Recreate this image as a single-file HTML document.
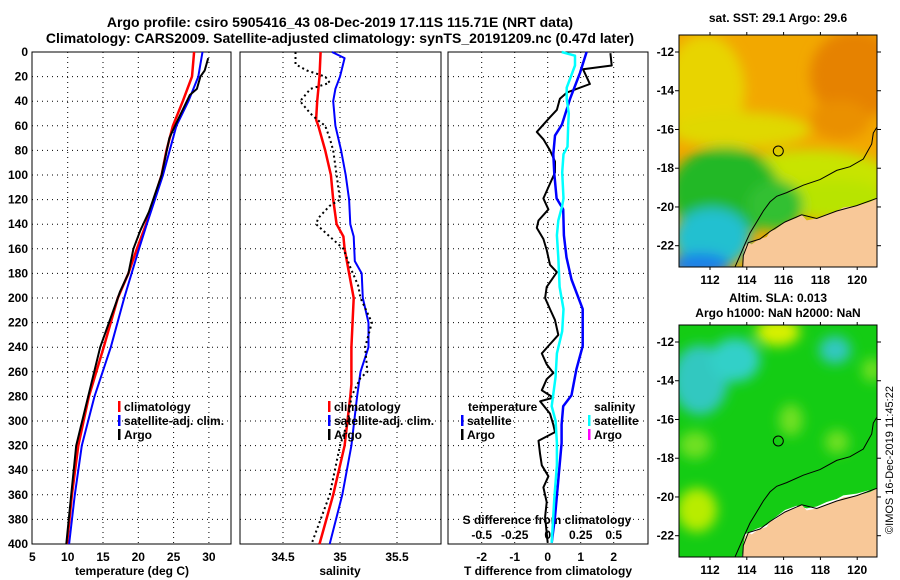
<!DOCTYPE html>
<html><head><meta charset="utf-8">
<style>
html,body{margin:0;padding:0;background:#fff;}
svg{display:block;font-family:"Liberation Sans",sans-serif;font-weight:bold;}
</style></head>
<body>
<svg id="chart" width="900" height="580" viewBox="0 0 900 580" xmlns="http://www.w3.org/2000/svg">
<defs>
<filter id="blur6" x="-20%" y="-20%" width="140%" height="140%"><feGaussianBlur stdDeviation="6"/></filter>
<clipPath id="clipTop"><rect x="679" y="35" width="198" height="232"/></clipPath>
<clipPath id="clipBot"><rect x="679" y="325" width="198" height="232"/></clipPath>
</defs>
<text x="340" y="27" font-size="14" text-anchor="middle">Argo profile: csiro 5905416_43 08-Dec-2019 17.11S 115.71E (NRT data)</text>
<text x="340" y="43" font-size="14" text-anchor="middle">Climatology: CARS2009. Satellite-adjusted climatology: synTS_20191209.nc (0.47d later)</text>
<g id="plots"></g>

<!-- top map -->
<g clip-path="url(#clipTop)">
<rect x="679" y="35" width="198" height="232" fill="#f2a800"/>
<g filter="url(#blur6)">
<ellipse cx="855" cy="75" rx="45" ry="45" fill="#e68200"/>
<ellipse cx="840" cy="120" rx="30" ry="20" fill="#ea9000"/>
<ellipse cx="705" cy="90" rx="40" ry="55" fill="#e8d400"/>
<ellipse cx="740" cy="130" rx="70" ry="18" fill="#e0d800"/>
<ellipse cx="810" cy="175" rx="80" ry="25" fill="#c8e400"/>
<ellipse cx="835" cy="200" rx="55" ry="20" fill="#b8e400"/>
<ellipse cx="725" cy="192" rx="55" ry="45" fill="#20b828"/>
<ellipse cx="775" cy="205" rx="28" ry="25" fill="#30c030"/>
<ellipse cx="712" cy="238" rx="38" ry="30" fill="#20c0d0"/>
<ellipse cx="700" cy="265" rx="30" ry="12" fill="#1a80e8"/>
</g>
<polygon fill="#f8c898" points="877.7,198 870,202 856.7,205.6 843.3,207.4 836.7,211 826.7,214 816.7,218.5 806.7,220.4 801.7,214.8 796.7,217.8 790,220.4 785,222 780,226 775,229.6 770,231.5 766.7,237 760,239 756.7,240.7 751.7,244.4 748.3,242.6 745,246.3 743.3,255.6 742.7,267 878,267"/>
<polyline fill="none" stroke="#000" stroke-width="1" points="877.7,126 873.3,133 871.7,144 863.3,159 850,166.7 836.7,170.4 820,179.6 803.3,185.2 786.7,192.6 776.7,196.3 770,201.9 763.3,211 756.7,222 750,233 745,244 740,255.6 735,267"/>
<polyline fill="none" stroke="#000" stroke-width="1" points="877.7,198 856.7,205.6 836.7,211 816.7,218.5 801.7,214.8 785,222 770,231.5 760,239 748.3,242.6 743.3,255.6 742.7,267"/>
<circle cx="778.3" cy="151" r="5" fill="none" stroke="#000"/>
</g>
<rect x="679" y="35" width="198" height="232" fill="none" stroke="#000"/>
<text x="778" y="22" font-size="12" text-anchor="middle">sat. SST: 29.1 Argo: 29.6</text>

<!-- bottom map -->
<g clip-path="url(#clipBot)">
<rect x="679" y="325" width="198" height="232" fill="#14cc14"/>
<g filter="url(#blur6)">
<ellipse cx="700" cy="380" rx="28" ry="35" fill="#30c8c0"/>
<ellipse cx="735" cy="360" rx="25" ry="22" fill="#30d0c8"/>
<ellipse cx="778" cy="332" rx="22" ry="14" fill="#d8f000"/>
<ellipse cx="835" cy="350" rx="16" ry="14" fill="#30c8c0"/>
<ellipse cx="872" cy="370" rx="10" ry="12" fill="#70e020"/>
<ellipse cx="791" cy="420" rx="12" ry="16" fill="#70e020"/>
<ellipse cx="837" cy="442" rx="12" ry="12" fill="#70e020"/>
<ellipse cx="695" cy="445" rx="16" ry="14" fill="#70e020"/>
<ellipse cx="697" cy="510" rx="20" ry="22" fill="#b8ec00"/>
</g>
<g transform="translate(0,290)">
<polygon fill="#fff" points="877.7,196 870,200 856.7,203.6 843.3,205.4 836.7,209 826.7,212 816.7,216.5 806.7,218.4 796.7,215.8 785,220 775,227.6 766.7,235 756.7,238.7 745,244.3 742,267"/>
<polygon fill="#f8c898" points="877.7,198 870,202 856.7,205.6 843.3,207.4 836.7,211 826.7,214 816.7,218.5 806.7,220.4 801.7,214.8 796.7,217.8 790,220.4 785,222 780,226 775,229.6 770,231.5 766.7,237 760,239 756.7,240.7 751.7,244.4 748.3,242.6 745,246.3 743.3,255.6 742.7,267 878,267"/>
<polyline fill="none" stroke="#000" stroke-width="1" points="877.7,126 873.3,133 871.7,144 863.3,159 850,166.7 836.7,170.4 820,179.6 803.3,185.2 786.7,192.6 776.7,196.3 770,201.9 763.3,211 756.7,222 750,233 745,244 740,255.6 735,267"/>
<polyline fill="none" stroke="#000" stroke-width="1" points="877.7,198 856.7,205.6 836.7,211 816.7,218.5 801.7,214.8 785,222 770,231.5 760,239 748.3,242.6 743.3,255.6 742.7,267"/>
<circle cx="778.3" cy="151" r="5" fill="none" stroke="#000"/>
</g>
</g>
<rect x="679" y="325" width="198" height="232" fill="none" stroke="#000"/>
<text x="778" y="302" font-size="12" text-anchor="middle">Altim. SLA: 0.013</text>
<text x="778" y="317" font-size="12" text-anchor="middle">Argo h1000: NaN h2000: NaN</text>
<text transform="translate(893,460) rotate(-90)" font-size="11" font-weight="normal" text-anchor="middle">©IMOS 16-Dec-2019 11:45:22</text>
<g id="mapaxes"></g>
</svg>
<script>
// ---- data ----
const depthTicks = [0,20,40,60,80,100,120,140,160,180,200,220,240,260,280,300,320,340,360,380,400];
const tempTicks = [5,10,15,20,25,30];
const salTicks = [34.5,35,35.5];
const tdiffTicks = [-2,-1,0,1,2];
const sdiffTicks = [-0.5,-0.25,0,0.25,0.5];
const sdiffLabels = ["-0.5","-0.25","0","0.25","0.5"];
const lonTicks = [112,114,116,118,120];
const latTicks = [-12,-14,-16,-18,-20,-22];

const tClimDepth = [0,20,40,60,80,100,120,140,160,180,200,240,280,320,360,400];
const tClim = [27.9,27.6,26.3,24.9,24.0,23.3,22.2,21.1,19.8,18.6,17.1,15.1,13.0,11.5,10.6,9.9];
const tSatDepth = [0,20,40,60,100,140,160,200,240,280,320,360,400];
const tSat = [29.1,28.5,27.1,25.4,23.5,21.2,20.1,18.0,16.1,13.8,12.0,11.0,10.2];
const tArgoDepth = [5,15,20,30,35,60,70,100,130,145,160,180,195,200,240,280,320,360,400];
const tArgo = [29.9,29.4,28.8,28.3,27.3,25.2,24.4,23.3,21.5,20.3,19.3,18.6,17.4,17.1,14.6,12.9,11.2,10.5,9.8];

const sClimDepth = [0,20,40,55,60,80,100,120,140,150,160,180,200,240,270,280,320,360,400];
const sClim = [34.83,34.82,34.80,34.79,34.81,34.87,34.92,34.94,34.97,35.03,35.04,35.08,35.12,35.1,35.1,35.09,35.04,34.94,34.82];
const sSatDepth = [0,5,20,30,40,60,80,100,120,140,150,170,180,200,220,240,260,280,320,360,400];
const sSat = [34.93,35.04,35.0,34.96,34.94,34.96,35.01,35.05,35.08,35.09,35.12,35.13,35.19,35.20,35.25,35.25,35.18,35.15,35.1,35.02,34.91];
const sArgoDepth = [0,10,15,20,25,30,40,50,55,60,70,80,100,120,125,135,140,150,160,175,190,200,220,240,260,265,280,300,320,360,400];
const sArgo = [34.61,34.61,34.71,34.87,34.91,34.74,34.65,34.74,34.80,34.87,34.91,34.94,34.97,35.0,34.91,34.81,34.79,34.91,35.03,35.09,35.16,35.18,35.28,35.22,35.24,35.18,35.1,35.07,35.0,34.91,34.75];

const tdSatDepth = [0,17,38,59,68,83,99,119,128,149,167,185,209,239,258,279,288,303,318,348,378,399];
const tdSat = [1.18,0.98,0.68,0.43,0.22,0.17,0.2,0.27,0.47,0.49,0.57,0.72,1.06,1.06,0.87,0.72,0.47,0.42,0.42,0.32,0.22,0.12];
const sdSatDepth = [0,3,11,29,38,50,59,77,83,98,119,125,137,149,167,191,209,227,245,264,288,300,318,336,363,399];
const sdSat = [0.106,0.207,0.207,0.144,0.144,0.16,0.155,0.15,0.12,0.11,0.12,0.11,0.08,0.07,0.08,0.09,0.12,0.11,0.07,0.06,0.03,0.06,0.07,0.07,0.05,0.03];
const tdArgoDepth = [1,11,14,26,33,38,47,53,59,65,71,80,89,98,107,119,128,137,143,152,161,173,179,191,200,209,218,230,239,245,254,261,266,275,281,284,294,303,309,316,327,336,345,354,366,378,399];
const tdArgo = [1.9,1.94,1.07,1.28,0.58,0.37,0.28,0.07,-0.13,-0.33,-0.13,0.07,0.22,0.22,0.07,-0.13,0.02,-0.28,-0.33,-0.13,-0.03,0.07,0.28,-0.03,-0.08,0.07,0.22,0.32,0.02,-0.18,-0.03,0.17,-0.03,-0.18,0.17,-0.23,0.07,0.17,0.22,-0.28,-0.23,-0.18,0.02,-0.13,-0.03,-0.08,0.0];

// ---- scales ----
const yD = d => 52 + d*1.23;
const xT = v => 32.4 + (v-5)*7.06;
const xS = v => 340 + (v-35)*114;
const xTD = v => 547.7 + v*33;
const xSD = v => 547.7 + v*132;
const mapX = lon => 710 + (lon-112)*18.4;
const mapYTop = lat => 52 + (-12-lat)*19.37;
const mapYBot = lat => 342 + (-12-lat)*19.37;

const NS = "http://www.w3.org/2000/svg";
const root = document.getElementById('plots');
function mk(tag, attrs, parent){
  const e = document.createElementNS(NS, tag);
  for (const k in attrs) e.setAttribute(k, attrs[k]);
  (parent||root).appendChild(e);
  return e;
}
function txt(s, x, y, size, anchor, parent){
  const t = mk('text', {x:x, y:y, 'font-size':size, 'text-anchor':anchor||'middle'}, parent);
  t.textContent = s;
  return t;
}
function line(xs, ds, xf, color, w, dash, name){
  const pts = xs.map((v,i)=> xf(v).toFixed(1)+','+yD(ds[i]).toFixed(1)).join(' ');
  const p = mk('polyline', {points:pts, fill:'none', stroke:color, 'stroke-width':w, 'stroke-linejoin':'round'});
  if (dash) p.setAttribute('stroke-dasharray', dash);
  
  
  return p;
}

const panels = [
  {x0:32, x1:231, name:'temperature-panel', vt:tempTicks.slice(1,6).map(xT)},
  {x0:240, x1:441, name:'salinity-panel', vt:salTicks.map(xS)},
  {x0:448, x1:648, name:'difference-panel', vt:tdiffTicks.map(xTD)}
];
panels.forEach(p=>{
  const g = mk('g', {});
  
  
  depthTicks.slice(1,20).forEach(d=>{
    mk('line', {x1:p.x0, x2:p.x1, y1:yD(d), y2:yD(d), stroke:'#000', 'stroke-width':1, 'stroke-dasharray':'1,4'}, g);
  });
  p.vt.forEach(x=>{
    mk('line', {x1:x, x2:x, y1:yD(0), y2:yD(400), stroke:'#000', 'stroke-width':1, 'stroke-dasharray':'1,4'}, g);
  });
  mk('rect', {x:p.x0, y:yD(0), width:p.x1-p.x0, height:yD(400)-yD(0), fill:'none', stroke:'#000', 'stroke-width':1}, g);
});

depthTicks.forEach(d=>{
  const t = txt(String(d), 28, yD(d)+4, 12, 'end');
  
  
});
tempTicks.forEach(v=>{
  const t = txt(String(v), xT(v), 561, 12);
  
  
});
salTicks.forEach(v=>{
  const t = txt(String(v), xS(v), 561, 12);
  
  
});
tdiffTicks.forEach(v=>{
  const t = txt(String(v), xTD(v), 561, 12);
  
  
});
sdiffTicks.forEach((v,i)=>{
  const t = txt(sdiffLabels[i], xSD(v), 539, 12);
  
  
});
let t;
t = txt('temperature (deg C)', 132, 575, 12);


t = txt('salinity', 340, 575, 12);


t = txt('T difference from climatology', 548, 575, 12);


t = txt('S difference from climatology', 547, 524, 12);



line(tClim, tClimDepth, xT, '#ff0000', 2.5, null, 'temperature-climatology-line');
line(tSat, tSatDepth, xT, '#0000ff', 2, null, 'temperature-satellite-line');
line(tArgo, tArgoDepth, xT, '#000', 2, null, 'temperature-argo-line');
line(sClim, sClimDepth, xS, '#ff0000', 2.5, null, 'salinity-climatology-line');
line(sSat, sSatDepth, xS, '#0000ff', 2, null, 'salinity-satellite-line');
line(sArgo, sArgoDepth, xS, '#000', 2, '2,3', 'salinity-argo-line');
line(tdArgo, tdArgoDepth, xTD, '#000', 2, null, 'tdiff-argo-line');
line(tdSat, tdSatDepth, xTD, '#0000ff', 2.5, null, 'tdiff-satellite-line');
line(sdSat, sdSatDepth, xSD, '#00ffff', 2.5, null, 'sdiff-satellite-line');

function legend(items, x, y0, name){
  const g = mk('g', {});
  
  
  items.forEach((it,i)=>{
    const y = y0 + i*14;
    if (it[1]) mk('rect', {x:x, y:y-10, width:2.5, height:11, fill:it[1]}, g);
    txt(it[0], x + (it[1]?6:0), y, 12, 'start', g);
  });
}
legend([['climatology','#ff0000'],['satellite-adj. clim.','#0000ff'],['Argo','#000']], 118, 411, 'temperature-legend');
legend([['climatology','#ff0000'],['satellite-adj. clim.','#0000ff'],['Argo','#000']], 328, 411, 'salinity-legend');
legend([['temperature',null]], 468, 411, 'tdiff-temperature-legend-title');
legend([['satellite','#0000ff'],['Argo','#000']], 461, 425, 'tdiff-temperature-legend');
legend([['salinity',null]], 594, 411, 'tdiff-salinity-legend-title');
legend([['satellite','#00ffff'],['Argo','#ff00ff']], 588, 425, 'tdiff-salinity-legend');

const ma = document.getElementById('mapaxes');
[[mapYTop, 35, 267, 284],[mapYBot, 325, 557, 574]].forEach(([yf, top, bot, ly])=>{
  latTicks.forEach(lat=>{
    const y = yf(lat);
    mk('line', {x1:675, x2:679, y1:y, y2:y, stroke:'#000'}, ma);
    mk('line', {x1:877, x2:881, y1:y, y2:y, stroke:'#000'}, ma);
    const tl = txt(String(lat), 674, y+4, 12, 'end', ma);
    
    
  });
  lonTicks.forEach(lon=>{
    const x = mapX(lon);
    mk('line', {x1:x, x2:x, y1:top-3, y2:top, stroke:'#000'}, ma);
    mk('line', {x1:x, x2:x, y1:bot, y2:bot+3, stroke:'#000'}, ma);
    const tl = txt(String(lon), x, ly, 12, 'middle', ma);
    
    
  });
});
</script>
</body></html>
